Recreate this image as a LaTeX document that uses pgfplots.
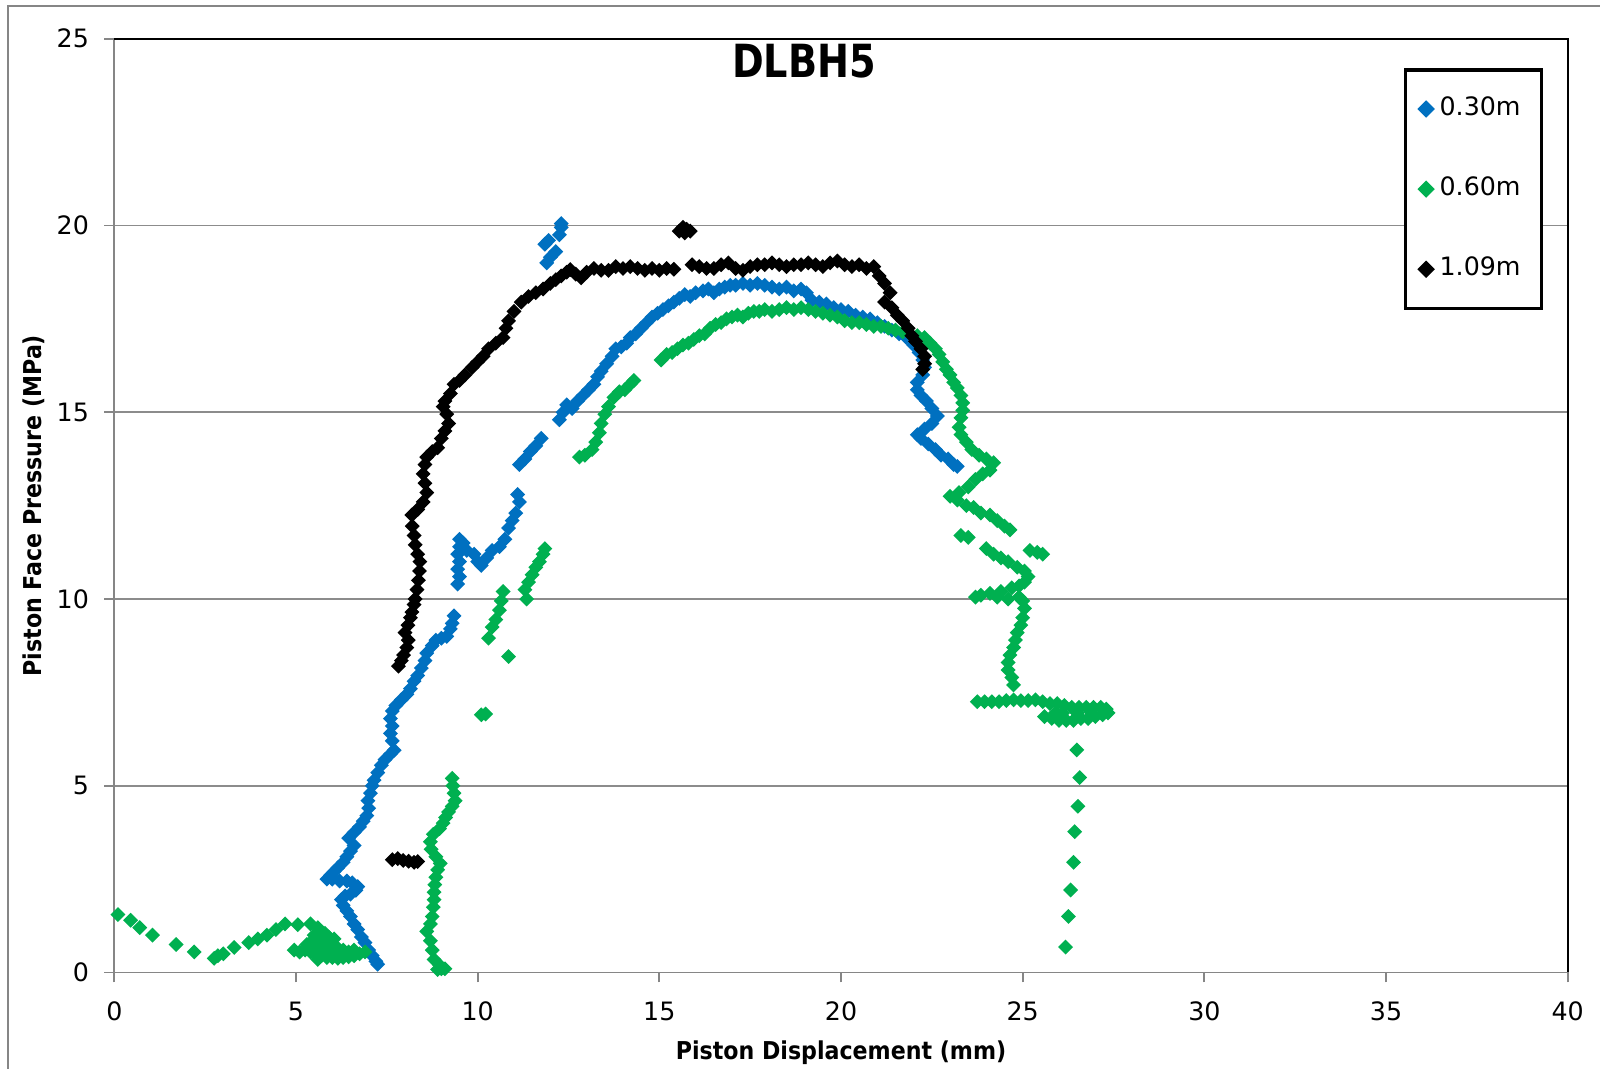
\documentclass[border=0pt]{standalone}
\usepackage{fontspec}
\setmainfont{DejaVu Sans}
\newfontfamily\labfont{DejaVu Sans Condensed}
\newfontfamily\titfont{DejaVu Sans Condensed}[FakeStretch=0.93]
\usepackage{pgfplots}
\pgfplotsset{compat=1.18}
\definecolor{sblue}{HTML}{0070C0}
\definecolor{sgreen}{HTML}{00B050}
\definecolor{axgray}{HTML}{868686}
\definecolor{grgray}{HTML}{8C8C8C}
\newcommand{\tickfont}{\fontsize{7.2}{8.5}\selectfont}
\newcommand{\labelfont}{\fontsize{7}{8.5}\selectfont\labfont\bfseries}
\begin{document}
\begin{tikzpicture}
\path[use as bounding box] (-1.143cm,-0.965cm) rectangle (14.857cm,9.725cm);
\draw[axgray, line width=0.8pt] (-1.063cm,-2cm) -- (-1.063cm,9.665cm) -- (16cm,9.665cm);
\begin{axis}[
  at={(0,0)}, anchor=south west,
  scale only axis,
  width=14.534cm, height=9.337cm,
  xmin=0, xmax=40, ymin=0, ymax=25,
  xtick={0,5,...,40}, ytick={0,5,...,25},
  ymajorgrids, grid style={grgray, line width=0.45pt},
  axis x line*=bottom, axis y line*=left,
  axis line style={axgray, line width=0.5pt, -},
  tick align=outside, major tick length=0.1cm,
  tick style={axgray, line width=0.5pt},
  tick label style={font=\tickfont, black},
  /pgf/number format/assume math mode=true,
  xticklabel style={yshift=-0.07cm},
  yticklabel style={xshift=-0.03cm},
  xlabel={\labelfont Piston Displacement (mm)},
  ylabel={\labelfont Piston Face Pressure (MPa)},
  every axis x label/.style={at={(rel axis cs:0.5,0)}, yshift=-0.8cm, anchor=center},
  every axis y label/.style={at={(rel axis cs:0,0.5)}, xshift=-0.81cm, rotate=90, anchor=center},
  title={\titfont\bfseries DLBH5},
  title style={font=\fontsize{13}{15}\selectfont, at={(rel axis cs:0.4746,0.953)}, anchor=center},
  clip=false,
  legend style={at={(0.8874,0.9683)}, anchor=north west, draw=black, line width=0.9pt,
    font=\tickfont, inner xsep=0.14cm, inner ysep=0.2cm, row sep=0.42cm,
    legend cell align=left},
  legend image code/.code={\draw[#1] plot coordinates {(0.17cm,0cm)};},
  every axis plot/.append style={only marks, mark=square*, mark size=1.3pt},
]
% 0.30 m
\addplot[sblue, mark options={fill=sblue, draw=none, rotate=45}] coordinates {
(7.25,0.22) (7.2,0.3) (7.1,0.45) (7.0,0.6) (6.9,0.8) (6.8,0.95) (6.7,1.15) (6.6,1.3)
(6.5,1.5) (6.4,1.65) (6.3,1.8) (6.25,1.95) (6.35,2.05) (6.5,2.1) (6.65,2.2) (6.7,2.3)
(6.55,2.4) (6.4,2.45) (6.2,2.45) (6.0,2.5) (5.85,2.5) (5.95,2.6) (6.05,2.7) (6.15,2.8)
(6.3,2.95) (6.4,3.1) (6.5,3.25) (6.6,3.4) (6.45,3.6) (6.6,3.75) (6.75,3.9) (6.85,4.05)
(6.95,4.2) (7.0,4.4) (6.98,4.6) (7.05,4.8) (7.1,5.0) (7.15,5.15) (7.25,5.35) (7.35,5.55)
(7.45,5.7) (7.6,5.85) (7.7,5.95) (7.65,6.2) (7.6,6.4) (7.65,6.6) (7.6,6.8) (7.65,7.0)
(7.75,7.15) (7.9,7.3) (8.05,7.45) (8.15,7.6) (8.25,7.8) (8.35,7.95) (8.45,8.15) (8.55,8.35)
(8.6,8.55) (8.75,8.75) (8.85,8.9) (9.0,8.95) (9.15,9.0) (9.25,9.2) (9.3,9.35) (9.35,9.55)
(9.45,10.4) (9.5,10.6) (9.45,10.8) (9.5,11.0) (9.45,11.2) (9.5,11.4) (9.5,11.6) (9.6,11.5)
(9.7,11.3) (9.9,11.2) (10.0,11.0) (10.1,10.9) (10.25,11.1) (10.4,11.3) (10.6,11.4) (10.75,11.6)
(10.85,11.9) (10.95,12.1) (11.05,12.3) (11.15,12.6) (11.1,12.8) (11.15,13.6) (11.3,13.75)
(11.45,13.95) (11.6,14.1) (11.75,14.3)
(12.25,14.8) (12.35,15.0) (12.45,15.2) (12.6,15.1) (12.75,15.3) (12.9,15.45) (13.05,15.6)
(13.2,15.75) (13.3,15.95) (13.4,16.1) (13.55,16.3) (13.7,16.5) (13.8,16.7) (13.95,16.75)
(14.1,16.85) (14.2,17.0) (14.35,17.1) (14.5,17.25) (14.65,17.4) (14.8,17.55) (14.95,17.65)
(15.1,17.75) (15.25,17.85) (15.4,17.95) (15.55,18.05) (15.7,18.15) (15.85,18.1) (16.0,18.2)
(16.2,18.25) (16.35,18.3) (16.5,18.2) (16.65,18.3) (16.8,18.35) (16.95,18.4) (17.1,18.4)
(17.3,18.45) (17.5,18.4) (17.7,18.45) (17.9,18.4) (18.1,18.35) (18.3,18.3) (18.5,18.35)
(18.7,18.25) (18.9,18.3) (19.05,18.2) (19.2,18.0) (19.4,17.95) (19.6,17.9) (19.8,17.8)
(20.0,17.75) (20.2,17.7) (20.4,17.6) (20.6,17.55) (20.8,17.5) (21.0,17.4) (21.2,17.3)
(21.4,17.2) (21.6,17.1) (21.8,17.0) (22.0,16.8) (22.15,16.6) (22.25,16.4) (22.3,16.2)
(22.25,16.0) (22.1,15.8) (22.1,15.6) (22.2,15.45) (22.35,15.3) (22.5,15.1) (22.65,14.9)
(22.5,14.7) (22.3,14.55) (22.1,14.4) (22.2,14.3) (22.4,14.15) (22.6,14.0) (22.75,13.85)
(22.95,13.75) (23.1,13.6) (23.2,13.55)
(11.9,19.0) (12.0,19.15) (12.15,19.3) (11.85,19.5) (11.95,19.6) (12.25,19.75) (12.3,19.95) (12.3,20.05)
};
\addlegendentry{0.30m}
% 0.60 m
\addplot[sgreen, mark options={fill=sgreen, draw=none, rotate=45}] coordinates {
(0.1,1.55) (0.45,1.4) (0.7,1.2) (1.05,1.0) (1.7,0.75) (2.2,0.55) (2.75,0.38) (2.85,0.45)
(3.0,0.5) (3.3,0.67) (3.7,0.8) (3.95,0.9) (4.2,1.0) (4.45,1.15) (4.7,1.3) (5.05,1.28)
(5.4,1.3) (5.6,1.2) (5.8,1.05)
(4.95,0.6) (5.1,0.55) (5.25,0.6) (5.4,0.55) (5.55,0.5) (5.7,0.45) (5.85,0.4) (6.0,0.4)
(6.15,0.38) (6.3,0.4) (6.45,0.42) (6.6,0.45) (6.75,0.5) (6.9,0.55) (5.4,0.8) (5.55,0.9)
(5.7,0.85) (5.85,0.75) (6.0,0.7) (6.15,0.65) (6.3,0.6) (6.45,0.55) (5.5,1.0) (5.7,1.1)
(5.9,0.95) (6.05,0.9) (5.3,0.75) (5.6,0.65) (5.9,0.6) (6.2,0.55) (6.6,0.6) (5.6,0.35)
(8.9,0.08) (9.0,0.1) (9.1,0.1) (8.95,0.2) (8.8,0.35) (8.75,0.6) (8.7,0.85) (8.6,1.1)
(8.7,1.3) (8.75,1.5) (8.78,1.75) (8.8,1.95) (8.8,2.15) (8.82,2.35) (8.85,2.55) (8.9,2.75)
(8.97,2.92) (8.85,3.1) (8.72,3.3) (8.7,3.5) (8.78,3.7) (8.95,3.85) (9.05,4.0) (9.12,4.15)
(9.2,4.3) (9.3,4.45) (9.38,4.6) (9.35,4.8) (9.32,5.0) (9.3,5.2)
(10.1,6.9) (10.22,6.92) (10.85,8.46) (10.3,8.95) (10.4,9.25) (10.5,9.45) (10.6,9.7)
(10.65,9.95) (10.7,10.2) (11.35,10.0) (11.3,10.25) (11.4,10.45) (11.5,10.65) (11.6,10.85)
(11.7,11.0) (11.8,11.2) (11.85,11.35)
(12.8,13.8) (12.95,13.85) (13.15,14.0) (13.25,14.2) (13.35,14.45) (13.4,14.7) (13.5,14.95)
(13.6,15.15) (13.75,15.4) (13.9,15.55) (14.05,15.6) (14.2,15.75) (14.3,15.85)
(15.05,16.4) (15.2,16.55) (15.35,16.6) (15.5,16.7) (15.65,16.8) (15.8,16.85) (15.95,16.95)
(16.1,17.05) (16.25,17.1) (16.4,17.25) (16.55,17.35) (16.7,17.4) (16.85,17.5) (17.0,17.55)
(17.15,17.6) (17.3,17.55) (17.45,17.65) (17.6,17.7) (17.75,17.7) (17.9,17.75) (18.1,17.7)
(18.3,17.75) (18.5,17.8) (18.7,17.75) (18.9,17.8) (19.1,17.75) (19.3,17.7) (19.5,17.65)
(19.7,17.6) (19.9,17.55) (20.1,17.45) (20.3,17.4) (20.5,17.4) (20.7,17.35) (20.9,17.3)
(21.1,17.3) (21.3,17.25) (21.5,17.2) (21.7,17.15) (21.9,17.1) (22.1,17.05) (22.3,17.0)
(22.45,16.85) (22.6,16.7) (22.7,16.55) (22.8,16.35) (22.9,16.15) (23.0,16.0) (23.1,15.8)
(23.2,15.65) (23.3,15.45) (23.35,15.25) (23.35,15.05) (23.3,14.85) (23.25,14.6) (23.3,14.4)
(23.45,14.2) (23.6,14.0) (23.8,13.85) (24.0,13.75) (24.2,13.65) (24.1,13.45) (23.9,13.35)
(23.7,13.2) (23.5,13.0) (23.25,12.85) (23.0,12.75) (23.2,12.65) (23.45,12.5) (23.65,12.45)
(23.85,12.3) (24.1,12.25) (24.3,12.1) (24.5,11.95) (24.65,11.85) (23.3,11.7) (23.5,11.65)
(24.0,11.35) (24.2,11.2) (24.4,11.1) (25.2,11.3) (25.4,11.25) (25.55,11.2) (24.6,11.0)
(24.85,10.85) (25.05,10.75) (25.15,10.6) (25.05,10.45) (24.9,10.35) (24.7,10.3) (24.4,10.2)
(24.1,10.15) (23.85,10.1) (23.7,10.05) (24.3,10.05) (24.6,10.0) (24.9,10.05) (25.0,9.95)
(25.05,9.75) (25.0,9.5) (24.95,9.3) (24.85,9.1) (24.8,8.9) (24.75,8.7) (24.65,8.5)
(24.6,8.3) (24.6,8.1) (24.7,7.9) (24.75,7.7)
(23.75,7.25) (23.95,7.25) (24.15,7.25) (24.35,7.25) (24.55,7.28) (24.75,7.3) (24.95,7.28)
(25.15,7.28) (25.35,7.3) (25.55,7.25) (25.75,7.2) (25.95,7.2) (26.15,7.15) (26.35,7.1)
(26.55,7.1) (26.75,7.1) (26.95,7.1) (27.15,7.1) (27.3,7.05) (27.35,6.95)
(25.6,6.85) (25.8,6.8) (26.0,6.75) (26.2,6.75) (26.4,6.75) (26.6,6.8) (26.8,6.8) (27.0,6.85)
(27.2,6.9) (26.1,6.95) (26.5,6.95) (26.9,6.95) (25.9,6.95)
(26.49,5.96) (26.57,5.22) (26.52,4.45) (26.43,3.77) (26.40,2.95) (26.32,2.21) (26.26,1.50) (26.18,0.68)
};
\addlegendentry{0.60m}
% 1.09 m
\addplot[black, mark options={fill=black, draw=none, rotate=45}] coordinates {
(7.65,3.02) (7.8,3.05) (7.95,3.0) (8.1,2.98) (8.25,2.95) (8.35,2.97)
(7.82,8.2) (7.9,8.35) (7.96,8.5) (8.05,8.7) (8.09,8.9) (8.0,9.1) (8.08,9.3) (8.15,9.5)
(8.19,9.65) (8.25,9.85) (8.28,10.0) (8.33,10.25) (8.37,10.5) (8.4,10.75) (8.41,11.0)
(8.35,11.2) (8.28,11.45) (8.25,11.7) (8.2,11.95) (8.19,12.25) (8.35,12.4) (8.5,12.6)
(8.6,12.85) (8.55,13.1) (8.5,13.35) (8.55,13.6) (8.6,13.8) (8.75,13.95) (8.9,14.05)
(9.0,14.3) (9.1,14.5) (9.2,14.7) (9.15,14.95) (9.05,15.15) (9.1,15.3) (9.25,15.5)
(9.35,15.75) (9.5,15.85) (9.65,16.0) (9.85,16.2) (10.0,16.35) (10.15,16.5) (10.3,16.7)
(10.5,16.85) (10.7,17.0) (10.78,17.25) (10.85,17.45) (11.0,17.7) (11.2,17.95) (11.4,18.1)
(11.6,18.2) (11.8,18.3) (12.0,18.45) (12.15,18.55) (12.3,18.65) (12.45,18.75) (12.55,18.82)
(12.7,18.7) (12.85,18.6) (13.0,18.75) (13.2,18.85) (13.4,18.8) (13.6,18.8) (13.8,18.9)
(14.0,18.85) (14.2,18.9) (14.4,18.85) (14.6,18.8) (14.8,18.85) (15.0,18.8) (15.2,18.85)
(15.4,18.83)
(15.9,18.95) (16.1,18.9) (16.3,18.85) (16.5,18.85) (16.7,18.95) (16.9,19.0) (17.1,18.85)
(17.3,18.8) (17.5,18.9) (17.7,18.95) (17.9,18.95) (18.1,19.0) (18.3,18.95) (18.5,18.9)
(18.7,18.95) (18.9,18.95) (19.1,19.0) (19.3,18.95) (19.5,18.9) (19.7,19.0) (19.9,19.05)
(20.1,18.95) (20.3,18.9) (20.5,18.95) (20.7,18.85) (20.9,18.9) (21.05,18.65) (21.2,18.45)
(21.35,18.2) (21.2,17.95) (21.4,17.8) (21.55,17.6) (21.7,17.45) (21.85,17.25) (21.95,17.05)
(22.05,16.9) (22.2,16.7) (22.3,16.5) (22.3,16.3) (22.25,16.15)
(15.55,19.85) (15.65,19.95) (15.75,19.9) (15.85,19.85) (15.7,19.8)
};
\addlegendentry{1.09m}
\draw[black, line width=0.6pt] (rel axis cs:0,1) -- (rel axis cs:1,1) -- (rel axis cs:1,0);
\end{axis}
\end{tikzpicture}
\end{document}
